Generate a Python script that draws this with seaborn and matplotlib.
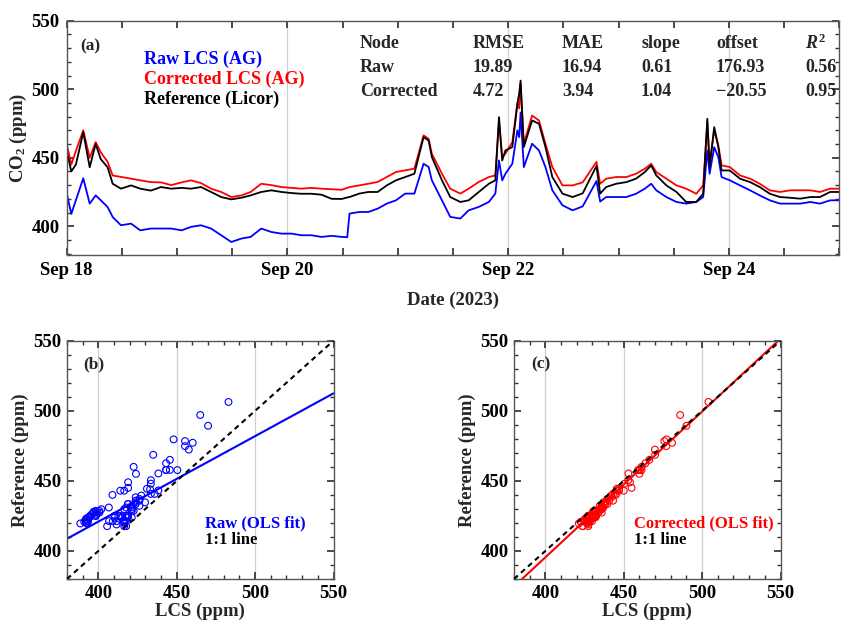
import numpy as np
import pandas as pd
import matplotlib
matplotlib.use("Agg")
import matplotlib.pyplot as plt
import matplotlib.dates as mdates
from matplotlib.ticker import MultipleLocator, FuncFormatter
import seaborn as sns

# ---------------- data ----------------
hours = [0, 1, 2, 3.6, 5, 6.3, 7.4, 8.9, 10, 11.8,
         14, 16, 18.3, 20.5, 22.7, 25, 27, 29.2, 31.4, 33.6,
         35.8, 38, 40, 42.3, 44.5, 46.7, 48.9, 51, 53.2, 55.4,
         57.6, 59.8,
         61.0, 61.5, 63.6, 65.6, 67.6, 69.6, 71.6, 73.6, 75.6, 77.6,
         78.7, 79.4, 81.6, 83.4, 85.6, 87.4, 89.6, 91.8, 93.2, 94,
         94.7, 95.4, 96.9, 98, 98.4, 98.7, 99.4, 101.2, 102.7, 104.1,
         105.6, 107.8, 110,
         112.2, 115.2, 116.0, 117.3, 119.5, 121.7, 123.8, 125.7, 127.1, 128.2,
         130.4, 132.6, 134.7, 136.9, 138.4, 139.3, 139.8, 140.8, 141.7, 142.4,
         144.2, 146.4, 148.6, 150.7, 152.9, 155.1, 157.3, 159.5, 161.7, 163.8,
         166, 168]

reference = [455, 440, 445, 468.6, 443, 460, 449, 443, 431, 427.4,
             429.8, 427.4, 426, 428.6, 427.4, 428, 427.4, 428.6, 425, 421.3,
             419.6, 420.8, 422.5, 425, 426.2, 425, 424.2, 423.7, 423.7, 423,
             420, 419.9,
             421, 421.3, 423.8, 425, 425, 429.8, 433.5, 435.9, 438.3, 465,
             462.6, 450.5, 433.5, 421.3, 417.7, 418.9, 425, 431, 433.5, 479.6,
             448, 455.3, 457.8, 489.3, 497, 506.3, 457.8, 477.2, 474.8, 457.8,
             435.9, 423.8, 421.3,
             424, 444, 423.8, 428.6, 431, 432.2, 434.7, 439.5, 444.4, 437.1,
             429.8, 425, 417.7, 417.7, 423.8, 478.4, 443.2, 472.3, 457.7, 440.7,
             440.7, 434.7, 432.2, 428.6, 423.7, 421.3, 420.8, 420.1, 421.3, 421.3,
             425, 425]

corrected = [460, 445, 455, 470, 450, 461.4, 454, 447, 437, 436,
             434.7, 433.5, 432.2, 432, 430, 432, 433.5, 431.5, 427.4, 425,
             421.3, 422.5, 425, 431, 430, 428.6, 428, 427.4, 428, 427.4,
             427, 426.6,
             428, 428.6, 429.8, 431, 432.3, 435.9, 439.6, 440.8, 442, 466.3,
             463.8, 452.9, 438.3, 427.4, 423.8, 427.4, 432.3, 435.9, 437.1, 477.2,
             450.5, 453, 461.4, 490, 486, 504, 460.2, 480.8, 477.2, 460.2,
             443.2, 429.8, 429.8,
             432, 447, 431, 434.7, 435.9, 435.9, 438.3, 441.9, 445.6, 439.5,
             434.7, 429.8, 427.4, 423.7, 429.8, 475.9, 445.6, 469.9, 459, 444.4,
             443.2, 437.1, 434.7, 431, 426.2, 425, 426.2, 426.2, 426.2, 425,
             427.4, 427.4]

raw = [424, 409, 419, 435, 416.5, 422.5, 419, 414, 406.7, 400.7,
       401.9, 397, 398.3, 398.3, 398.3, 397, 399.5, 400.7, 398.3, 393.4,
       388.5, 391, 392.2, 398.3, 395.8, 394.6, 394.6, 393.4, 393.4, 392.2,
       393, 392.2,
       392, 409.2, 410.4, 410.4, 412.8, 416.5, 418.9, 423.8, 423.8, 445.6,
       443.2, 433.5, 418.9, 406.8, 405.6, 411.6, 414.1, 417.7, 423.8, 448,
       433.5, 438.3, 445.6, 470, 465, 483, 443.2, 460.2, 455.3, 443.2,
       426.2, 415.3, 411.6,
       414.5, 433, 418, 421.3, 421.3, 421.3, 423.7, 427.4, 431, 426.2,
       421.3, 417.7, 416.5, 417.7, 421.3, 455.3, 438.3, 457.7, 450.4, 435.9,
       433.5, 429.8, 426.2, 422.5, 418.9, 416.5, 416.5, 416.5, 417.7, 416.5,
       418.9, 418.9]

series_names = ["Raw LCS (AG)", "Corrected LCS (AG)", "Reference (Licor)"]
series_colors = ["#0000ff", "#ff0000", "#000000"]

table_header = ["Node", "RMSE", "MAE", "slope", "offset", r"$\mathit{R}^{2}$"]
table_rows = [["Raw", "19.89", "16.94", "0.61", "176.93", "0.56"],
              ["Corrected", "4.72", "3.94", "1.04", "\u221220.55", "0.95"]]
fit_slope = [0.61, 1.04]
fit_offset = [176.93, -20.55]

# ---------------- style ----------------
sns.set_theme(style="ticks")
plt.rcParams.update({
    "font.family": ["Liberation Serif", "DejaVu Serif"],
    "font.weight": "bold",
    "axes.labelweight": "bold",
    "mathtext.fontset": "custom",
    "mathtext.rm": "Liberation Serif:bold",
    "mathtext.it": "Liberation Serif:italic:bold",
    "mathtext.bf": "Liberation Serif:bold",
    "xtick.direction": "in", "ytick.direction": "in",
    "xtick.top": True, "ytick.right": True,
    "xtick.major.size": 5, "ytick.major.size": 5,
    "xtick.minor.size": 3, "ytick.minor.size": 3,
    "xtick.color": "#333333", "ytick.color": "#333333",
    "xtick.labelcolor": "black", "ytick.labelcolor": "black",
    "axes.edgecolor": "#555555", "axes.linewidth": 1.0,
})

W, H = 848, 626
fig = plt.figure(figsize=(W / 100, H / 100), dpi=100)

def px_text(x, y, s, **kw):
    fig.text(x / W, 1 - y / H, s, va="center", ha="left", **kw)

# ---------------- panel (a) ----------------
t0 = pd.Timestamp("2023-09-18")
times = t0 + pd.to_timedelta(hours, unit="h")
df = pd.DataFrame({"time": times, series_names[0]: raw,
                   series_names[1]: corrected, series_names[2]: reference})
long = df.melt("time", var_name="series", value_name="co2")

ax = fig.add_axes([66.7 / W, 1 - 255 / H, (839.3 - 66.7) / W, (255 - 20.7) / H])
for d in ["2023-09-20", "2023-09-22", "2023-09-24"]:
    ax.axvline(pd.Timestamp(d), color="#cfcfcf", lw=0.9, zorder=0)
sns.lineplot(data=long, x="time", y="co2", hue="series", hue_order=series_names,
             palette=dict(zip(series_names, series_colors)), linewidth=1.3,
             legend=False, ax=ax)
ax.set_xlim(t0, pd.Timestamp("2023-09-25"))
ax.set_ylim(379, 550)
ax.xaxis.set_major_locator(mdates.HourLocator(byhour=[0, 12]))

def date_fmt(x, pos):
    d = mdates.num2date(x)
    if d.hour == 0 and (d.day - 18) % 2 == 0:
        return f"Sep {d.day}"
    return ""

ax.xaxis.set_major_formatter(FuncFormatter(date_fmt))
ax.yaxis.set_major_locator(MultipleLocator(50))
ax.yaxis.set_minor_locator(MultipleLocator(10))
ax.tick_params(labelsize=13.5, pad=5)
ax.set_xlabel("Date (2023)", fontsize=13.5, labelpad=9)
ax.set_ylabel(r"CO$_{2}$ (ppm)", fontsize=13.5, labelpad=2)

px_text(80, 46, "(a)", fontsize=12.5)
for name, col, yy in zip(series_names, series_colors, [59, 79, 99]):
    px_text(144, yy, name, color=col, fontsize=13)
col_x = [360, 473, 562, 641, 716, 805]
for cx, h in zip(col_x, table_header):
    px_text(cx, 43, h, fontsize=13)
for row, yy in zip(table_rows, [67, 91]):
    for cx, v in zip(col_x, row):
        px_text(cx, yy, v, fontsize=13)

# ---------------- panels (b), (c) ----------------
panels = [
    dict(left=67, x=raw, color="#0000ff", tag="(b)", fit="Raw (OLS fit)", k=0,
         tag_x=83, fit_x=205),
    dict(left=514, x=corrected, color="#ff0000", tag="(c)", fit="Corrected (OLS fit)", k=1,
         tag_x=531, fit_x=634),
]
for p in panels:
    axs = fig.add_axes([p["left"] / W, 1 - 579 / H, 266.5 / W, (579 - 340.7) / H])
    for g in [400, 450, 500]:
        axs.axvline(g, color="#cfcfcf", lw=0.9, zorder=0)
    sdf = pd.DataFrame({"lcs": p["x"], "ref": reference})
    sns.scatterplot(data=sdf, x="lcs", y="ref", marker="o", s=24,
                    facecolor="none", edgecolor=p["color"], linewidth=0.8,
                    ax=axs, zorder=3)
    xx = np.array([380, 550])
    axs.plot(xx, fit_slope[p["k"]] * xx + fit_offset[p["k"]], color=p["color"],
             lw=1.5, zorder=2)
    axs.plot(xx, xx, color="black", lw=1.5, ls=(0, (2.5, 2)), zorder=4)
    axs.set_xlim(380, 550)
    axs.set_ylim(380, 550)
    for a in (axs.xaxis, axs.yaxis):
        a.set_major_locator(MultipleLocator(50))
        a.set_minor_locator(MultipleLocator(10))
    axs.tick_params(labelsize=13.5, pad=4)
    axs.set_xlabel("LCS (ppm)", fontsize=13.5, labelpad=1)
    axs.set_ylabel("Reference (ppm)", fontsize=13.5, labelpad=3)
    px_text(p["tag_x"], 364, p["tag"], fontsize=12.5)
    px_text(p["fit_x"], 523, p["fit"], color=p["color"], fontsize=12)
    px_text(p["fit_x"], 540, "1:1 line", color="black", fontsize=12)

fig.savefig("out.png", dpi=100)
